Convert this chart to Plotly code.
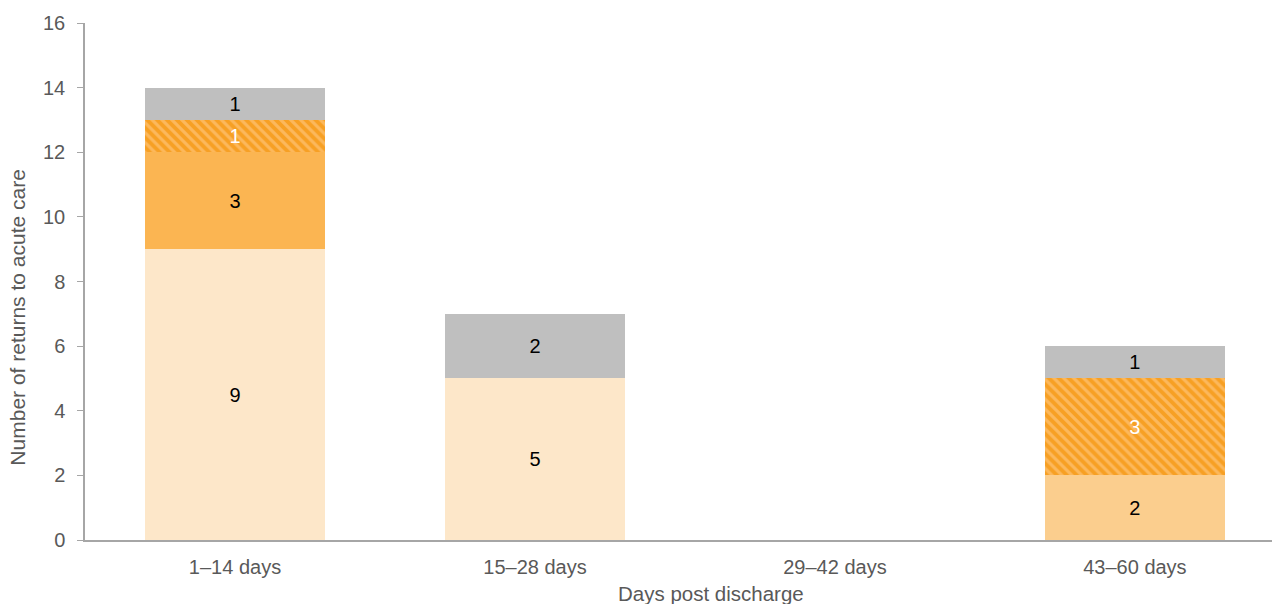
import plotly.graph_objects as go

categories = ["1–14 days", "15–28 days", "29–42 days", "43–60 days"]
light_peach = [9, 5, 0, 0]
medium_peach = [0, 0, 0, 2]
orange = [3, 0, 0, 0]
hatched = [1, 0, 0, 3]
gray = [1, 2, 0, 1]

x_title = "Days post discharge"
y_title = "Number of returns to acute care"

def labels(vals):
    return [str(v) if v else "" for v in vals]

FONT = "Liberation Sans, Arial, sans-serif"
FS = 20
fig = go.Figure()
series = [
    ("Light", light_peach, "#FDE7C9", None, "#000000"),
    ("Medium", medium_peach, "#FBCE8E", None, "#000000"),
    ("Orange", orange, "#FBB552", None, "#000000"),
    ("Hatched", hatched, "#F7A024", dict(shape="\\", fgcolor="#FCB85C", bgcolor="#F7A024", size=7, solidity=0.45, fillmode="replace"), "#FFFFFF"),
    ("Gray", gray, "#BFBFBF", None, "#000000"),
]
for name, vals, color, pattern, tcolor in series:
    marker = dict(color=color, line=dict(width=0))
    if pattern:
        marker["pattern"] = pattern
    fig.add_trace(go.Bar(
        x=categories, y=vals, name=name, marker=marker,
        text=labels(vals), textposition="inside", insidetextanchor="middle",
        textangle=0,
        textfont=dict(color=tcolor, size=FS, family=FONT),
        width=0.6, showlegend=False,
    ))

fig.update_layout(
    barmode="stack",
    width=1272, height=604,
    margin=dict(l=85, r=0, t=23, b=64, autoexpand=False),
    plot_bgcolor="white", paper_bgcolor="white",
    font=dict(family=FONT, color="#595959", size=FS),
    uniformtext=dict(mode=False),
    annotations=[
        dict(text=x_title, xref="paper", yref="paper", x=0.5274, y=-0.1044,
             xanchor="center", yanchor="middle", showarrow=False,
             font=dict(size=FS + 0.5, color="#595959", family=FONT)),
        dict(text=y_title, xref="paper", yref="paper", x=-0.0569, y=0.431,
             xanchor="center", yanchor="middle", textangle=-90, showarrow=False,
             font=dict(size=FS + 1, color="#595959", family=FONT)),
    ],
)
fig.update_xaxes(
    range=[-0.5, 3.457], showline=True, linecolor="#A6A6A6", linewidth=1.5,
    ticks="", showgrid=False, automargin=False, ticklabelstandoff=8,
    tickfont=dict(size=FS, color="#595959", family=FONT),
)
fig.update_yaxes(
    range=[0, 16], dtick=2, showline=True, linecolor="#A6A6A6", linewidth=1.5,
    ticks="outside", ticklen=6, tickcolor="#A6A6A6", showgrid=False, zeroline=False,
    automargin=False, ticklabelstandoff=8,
    tickfont=dict(size=FS, color="#595959", family=FONT),
)
fig.write_html("out.html", config={"displayModeBar": False},
               post_script="document.body.style.margin='0';")
